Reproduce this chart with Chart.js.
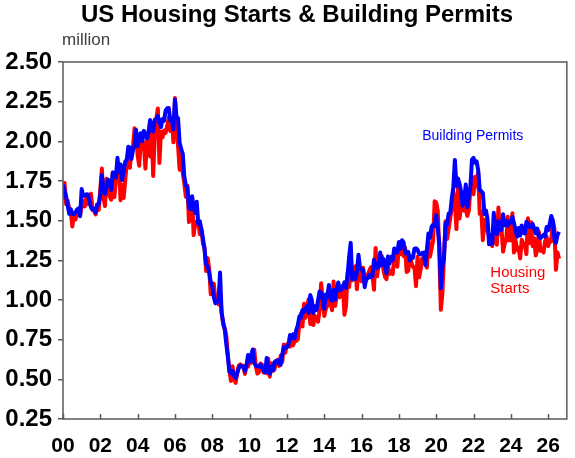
<!DOCTYPE html>
<html>
<head>
<meta charset="utf-8">
<script src="https://cdn.jsdelivr.net/npm/chart.js@4.4.1/dist/chart.umd.min.js"></script>
<style>
  html, body { margin: 0; padding: 0; background: #fff; }
  #wrap { width: 575px; height: 458px; position: relative; }
</style>
</head>
<body>
<div id="wrap"><canvas id="housingChart"></canvas></div>
<script>
// monthly series, million units (SAAR), starting Jan 2000
const firstYear = 2000;
const yearTicks = [2000, 2002, 2004, 2006, 2008, 2010, 2012, 2014, 2016, 2018, 2020, 2022, 2024, 2026];
const millionTicks = [0.25, 0.5, 0.75, 1.0, 1.25, 1.5, 1.75, 2.0, 2.25, 2.5];

const permits = [
  1.727,1.692,1.651,1.597,1.543,1.572,1.542,1.542,1.552,1.570,1.577,1.528,
  1.699,1.656,1.659,1.666,1.665,1.626,1.583,1.570,1.575,1.551,1.602,1.607,
  1.665,1.787,1.691,1.669,1.716,1.758,1.738,1.695,1.803,1.799,1.771,1.896,
  1.808,1.854,1.757,1.808,1.871,1.884,1.966,1.961,1.889,1.944,1.975,2.071,
  1.970,2.024,2.051,2.001,2.066,2.044,2.020,2.055,2.135,2.088,2.062,2.136,
  2.140,2.160,2.119,2.090,2.141,2.130,2.195,2.208,2.210,2.132,2.134,2.077,
  2.263,2.154,2.145,1.991,1.951,1.923,1.778,1.723,1.710,1.580,1.573,1.654,
  1.580,1.548,1.619,1.479,1.496,1.446,1.389,1.325,1.226,1.212,1.175,1.113,
  1.087,1.017,0.979,0.988,0.990,1.173,0.919,0.862,0.815,0.721,0.645,0.547,
  0.539,0.554,0.520,0.509,0.538,0.570,0.587,0.581,0.579,0.552,0.589,0.653,
  0.613,0.650,0.688,0.606,0.584,0.583,0.580,0.592,0.573,0.555,0.544,0.635,
  0.561,0.536,0.581,0.557,0.608,0.617,0.602,0.621,0.592,0.655,0.704,0.697,
  0.704,0.720,0.780,0.757,0.784,0.760,0.812,0.840,0.897,0.889,0.937,0.925,
  0.952,0.962,0.919,1.031,0.999,0.918,0.961,0.937,0.997,1.054,1.046,1.003,
  0.945,1.035,1.020,1.095,1.007,0.996,1.064,1.004,1.069,1.110,1.061,1.066,
  1.081,1.112,1.077,1.158,1.272,1.360,1.130,1.170,1.132,1.173,1.285,1.204,
  1.192,1.189,1.081,1.130,1.138,1.159,1.144,1.152,1.254,1.229,1.202,1.210,
  1.300,1.219,1.260,1.228,1.168,1.275,1.230,1.272,1.250,1.325,1.303,1.300,
  1.366,1.323,1.377,1.364,1.301,1.292,1.303,1.249,1.270,1.265,1.322,1.326,
  1.317,1.291,1.288,1.296,1.299,1.220,1.317,1.419,1.391,1.461,1.474,1.466,
  1.536,1.452,1.356,1.074,1.216,1.258,1.483,1.476,1.545,1.545,1.639,1.709,
  1.883,1.720,1.766,1.733,1.683,1.594,1.630,1.728,1.586,1.653,1.717,1.885,
  1.895,1.865,1.873,1.819,1.695,1.685,1.674,1.542,1.564,1.512,1.351,1.409,
  1.354,1.550,1.437,1.417,1.496,1.441,1.443,1.541,1.471,1.498,1.467,1.495,
  1.489,1.523,1.485,1.440,1.399,1.454,1.406,1.470,1.425,1.419,1.493,1.482,
  1.460,1.460,1.480,1.450,1.420,1.450,1.400,1.390,1.400,1.410,1.400,1.460,
  1.440,1.480,1.530,1.500,1.380,1.360,1.410,1.430
];

const starts = [
  1.636,1.737,1.604,1.626,1.575,1.559,1.463,1.541,1.507,1.549,1.551,1.532,
  1.600,1.625,1.590,1.649,1.605,1.636,1.670,1.567,1.562,1.540,1.602,1.568,
  1.698,1.829,1.642,1.592,1.764,1.717,1.655,1.633,1.804,1.648,1.753,1.788,
  1.853,1.629,1.726,1.643,1.751,1.867,1.897,1.833,1.939,1.967,2.083,2.057,
  1.911,1.846,1.998,2.003,1.981,1.828,2.002,2.024,1.905,2.072,1.782,2.042,
  2.144,2.207,1.864,2.061,2.025,2.068,2.054,2.095,2.151,2.065,2.147,1.994,
  2.273,2.119,1.969,1.821,1.942,1.802,1.737,1.650,1.720,1.491,1.570,1.649,
  1.409,1.480,1.495,1.490,1.415,1.448,1.354,1.330,1.183,1.264,1.197,1.037,
  1.084,1.103,1.005,1.013,0.973,1.046,0.923,0.844,0.820,0.777,0.652,0.560,
  0.490,0.582,0.505,0.478,0.540,0.585,0.594,0.586,0.585,0.534,0.588,0.581,
  0.614,0.604,0.636,0.687,0.583,0.536,0.546,0.599,0.594,0.543,0.545,0.539,
  0.630,0.517,0.600,0.554,0.561,0.608,0.623,0.585,0.650,0.611,0.719,0.668,
  0.720,0.709,0.707,0.752,0.715,0.743,0.741,0.754,0.847,0.915,0.833,0.976,
  0.888,0.962,1.005,0.849,0.930,0.843,0.899,0.883,0.863,0.936,1.105,1.003,
  0.899,0.945,0.962,1.051,1.006,0.935,1.117,0.963,1.026,1.066,1.017,1.083,
  1.091,0.907,0.962,1.170,1.082,1.189,1.124,1.144,1.213,1.068,1.189,1.157,
  1.118,1.203,1.115,1.159,1.153,1.186,1.206,1.156,1.064,1.328,1.149,1.228,
  1.238,1.278,1.193,1.147,1.131,1.219,1.164,1.179,1.163,1.264,1.299,1.210,
  1.336,1.290,1.327,1.276,1.329,1.177,1.184,1.280,1.237,1.209,1.206,1.087,
  1.273,1.143,1.194,1.264,1.266,1.232,1.204,1.375,1.274,1.323,1.377,1.622,
  1.614,1.564,1.290,0.938,1.046,1.273,1.497,1.384,1.448,1.514,1.580,1.680,
  1.625,1.447,1.725,1.514,1.594,1.657,1.562,1.573,1.530,1.563,1.703,1.768,
  1.666,1.777,1.716,1.803,1.543,1.561,1.377,1.505,1.463,1.432,1.401,1.357,
  1.340,1.436,1.380,1.348,1.583,1.418,1.451,1.305,1.356,1.376,1.525,1.376,
  1.376,1.546,1.299,1.377,1.315,1.329,1.262,1.379,1.355,1.344,1.289,1.515,
  1.360,1.490,1.340,1.390,1.280,1.320,1.430,1.310,1.320,1.300,1.370,1.400,
  1.340,1.380,1.370,1.500,1.450,1.190,1.300,1.260
];

const toPoints = vals => vals.map((v, i) => ({ x: firstYear + i / 12, y: v }));

const FONT = '"Liberation Sans", Arial, sans-serif';
const AXIS_GREY = '#595959';

// box round the plot, inward ticks on the bottom axis, title and labels
const framePlugin = {
  id: 'frame',
  afterDraw(chart) {
    const { ctx, chartArea: a, scales } = chart;
    const x = scales.x, y = scales.y;
    ctx.save();
    ctx.strokeStyle = AXIS_GREY;
    ctx.lineWidth = 1.5;
    ctx.strokeRect(a.left, a.top, a.right - a.left, a.bottom - a.top);
    ctx.beginPath();
    yearTicks.forEach(yr => {
      const px = Math.round(x.getPixelForValue(yr)) + 0.5;
      ctx.moveTo(px, a.bottom);
      ctx.lineTo(px, a.bottom - 5);
    });
    ctx.stroke();

    ctx.fillStyle = '#000';
    ctx.font = 'bold 24px ' + FONT;
    ctx.textAlign = 'center';
    ctx.textBaseline = 'alphabetic';
    ctx.fillText('US Housing Starts & Building Permits', 297, 22);

    ctx.fillStyle = '#404040';
    ctx.font = '17px ' + FONT;
    ctx.textAlign = 'left';
    ctx.fillText('million', 62, 45);

    ctx.textBaseline = 'middle';
    ctx.fillStyle = '#0000ff';
    ctx.font = '14px ' + FONT;
    ctx.fillText('Building Permits', x.getPixelForValue(2019.25), y.getPixelForValue(2.03));

    ctx.fillStyle = '#ff0000';
    ctx.font = '15px ' + FONT;
    ctx.fillText('Housing', x.getPixelForValue(2022.9), y.getPixelForValue(1.168));
    ctx.fillText('Starts', x.getPixelForValue(2022.9), y.getPixelForValue(1.073));
    ctx.restore();
  }
};

new Chart(document.getElementById('housingChart'), {
  type: 'line',
  data: {
    datasets: [
      {
        label: 'Building Permits',
        data: toPoints(permits),
        borderColor: '#0000ff',
        borderWidth: 4,
        pointRadius: 0,
        borderJoinStyle: 'round',
        tension: 0
      },
      {
        label: 'Housing Starts',
        data: toPoints(starts),
        borderColor: '#ff0000',
        borderWidth: 4,
        pointRadius: 0,
        borderJoinStyle: 'round',
        tension: 0
      }
    ]
  },
  options: {
    responsive: true,
    maintainAspectRatio: false,
    animation: false,
    layout: { padding: { top: 62, right: 4, left: 0, bottom: 0 } },
    plugins: {
      legend: { display: false },
      tooltip: { enabled: false },
      title: { display: false }
    },
    scales: {
      x: {
        type: 'linear',
        min: 2000,
        max: 2027,
        afterBuildTicks: axis => { axis.ticks = yearTicks.map(v => ({ value: v })); },
        afterFit: axis => { axis.height = 39; },
        border: { display: false },
        grid: { display: false, drawTicks: false },
        ticks: {
          padding: 15,
          maxRotation: 0,
          autoSkip: false,
          color: '#000',
          font: { family: FONT, size: 21, weight: 'bold' },
          callback: v => String(v % 100).padStart(2, '0')
        }
      },
      y: {
        min: 0.25,
        max: 2.5,
        afterBuildTicks: axis => { axis.ticks = millionTicks.map(v => ({ value: v })); },
        afterFit: axis => { axis.width = 63; },
        border: { display: false },
        grid: { drawOnChartArea: false, drawTicks: true, tickLength: 5, color: AXIS_GREY, lineWidth: 1.5 },
        ticks: {
          padding: 6,
          color: '#000',
          font: { family: FONT, size: 24, weight: 'bold' },
          callback: v => v.toFixed(2)
        }
      }
    }
  },
  plugins: [framePlugin]
});
</script>
</body>
</html>
